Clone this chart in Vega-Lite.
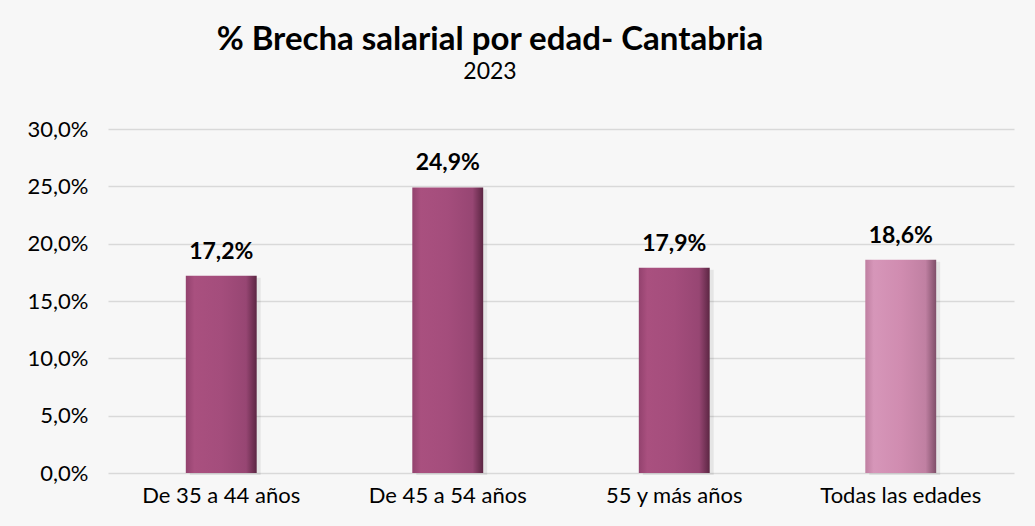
{
  "$schema": "https://vega.github.io/schema/vega-lite/v6.json",
  "width": 906,
  "height": 344,
  "autosize": {"type": "none"},
  "padding": {"left": 108, "top": 129, "right": 21, "bottom": 53},
  "background": "#f7f7f7",
  "config": {
    "locale": {"number": {"decimal": ",", "thousands": ".", "grouping": [3], "currency": ["", " €"]}},
    "view": {"stroke": null},
    "font": "Lato"
  },
  "title": {
    "text": "% Brecha salarial por edad- Cantabria",
    "subtitle": "2023",
    "anchor": "middle",
    "frame": "group",
    "dx": -71,
    "offset": 34,
    "font": "Lato",
    "fontSize": 33,
    "fontWeight": "bold",
    "color": "#000000",
    "subtitleFont": "Lato",
    "subtitleFontSize": 23,
    "subtitleColor": "#000000",
    "subtitlePadding": 4
  },
  "data": {
    "values": [
      {"grupo": "De 35 a 44 años", "brecha": 0.172, "tipo": "edad"},
      {"grupo": "De 45 a 54 años", "brecha": 0.249, "tipo": "edad"},
      {"grupo": "55 y más años", "brecha": 0.179, "tipo": "edad"},
      {"grupo": "Todas las edades", "brecha": 0.186, "tipo": "total"}
    ]
  },
  "encoding": {
    "x": {
      "field": "grupo",
      "type": "nominal",
      "sort": null,
      "scale": {"paddingInner": 0.687, "paddingOuter": 0.3435},
      "axis": {
        "title": null,
        "labelAngle": 0,
        "labelFont": "Lato",
        "labelFontSize": 22,
        "labelColor": "#000000",
        "labelPadding": 12,
        "ticks": false,
        "domain": false
      }
    },
    "y": {
      "field": "brecha",
      "type": "quantitative",
      "scale": {"domain": [0, 0.3]},
      "axis": {
        "title": null,
        "format": ".1%",
        "values": [0, 0.05, 0.1, 0.15, 0.2, 0.25, 0.3],
        "labelFont": "Lato",
        "labelFontSize": 22,
        "labelColor": "#000000",
        "labelPadding": 20,
        "ticks": false,
        "domain": false,
        "grid": true,
        "gridColor": "#d9d9d9",
        "gridWidth": 1.5
      }
    }
  },
  "layer": [
    {
      "mark": {"type": "bar", "color": "#000000", "opacity": 0.07, "xOffset": 4, "yOffset": 2}
    },
    {
      "transform": [{"filter": "datum.tipo === 'edad'"}],
      "mark": {
        "type": "bar",
        "color": {
          "gradient": "linear", "x1": 0, "x2": 1, "y1": 0, "y2": 0,
          "stops": [
            {"offset": 0, "color": "#93426e"},
            {"offset": 0.12, "color": "#a9507f"},
            {"offset": 0.5, "color": "#a44d7c"},
            {"offset": 0.85, "color": "#974673"},
            {"offset": 1, "color": "#5c2643"}
          ]
        }
      }
    },
    {
      "transform": [{"filter": "datum.tipo === 'total'"}],
      "mark": {
        "type": "bar",
        "color": {
          "gradient": "linear", "x1": 0, "x2": 1, "y1": 0, "y2": 0,
          "stops": [
            {"offset": 0, "color": "#bf7fa1"},
            {"offset": 0.12, "color": "#d696b9"},
            {"offset": 0.5, "color": "#d08cb0"},
            {"offset": 0.85, "color": "#c080a2"},
            {"offset": 1, "color": "#7f4f69"}
          ]
        }
      }
    },
    {
      "mark": {"type": "text", "baseline": "alphabetic", "dy": -17, "font": "Lato", "fontSize": 23, "fontWeight": "bold", "color": "#000000"},
      "encoding": {
        "text": {"field": "brecha", "type": "quantitative", "format": ".1%"}
      }
    }
  ]
}
